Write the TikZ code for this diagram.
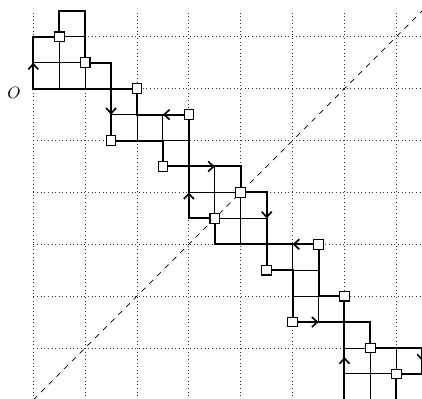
\documentclass[tikz,border=0pt]{standalone}
\usepackage{amsmath}
\usepackage{tikz}
\usetikzlibrary{arrows.meta}

\begin{document}
\begin{tikzpicture}[x=0.5cm,y=0.5cm,font=\small,
  pathline/.style={line width=1.1pt,line join=miter},
  cellline/.style={line width=0.5pt},
  turnbox/.style={draw,fill=white,line width=0.6pt,minimum size=5.3pt,inner sep=0pt},
  dirtip/.style={-{Straight Barb[length=3pt,width=5.5pt]},line width=0.9pt}]
\useasboundingbox (-1.284,-11.93) rectangle (14.99,3.42);
\draw[line width=0.5pt,black!80,dash pattern=on 0.5pt off 1.5pt] (0,-12) grid (15,3);
\draw[dashed,line width=0.4pt] (0,-12) -- (15,3);
% inner cell lines
\draw[cellline] (1,2)--(2,2) (1,2)--(1,0) (2,1)--(2,0) (0,1)--(2,1)
  (3,-1)--(4,-1) (4,-1)--(4,-2) (5,-1)--(5,-2) (5,-2)--(6,-2)
  (7,-3)--(7,-5) (7,-5)--(9,-5) (6,-4)--(8,-4) (8,-4)--(8,-6)
  (14,-11)--(14,-10) (14,-11)--(12,-11) (13,-10)--(12,-10) (13,-12)--(13,-10)
  (11,-9)--(11,-8) (11,-8)--(10,-8) (10,-7)--(10,-6) (10,-7)--(11,-7);
% the closed path through O
\draw[pathline] (0,0)--(0,2)--(1,2)--(1,3)--(2,3)--(2,1)--(3,1)--(3,-2)--(5,-2)
  --(5,-3)--(8,-3)--(8,-4)--(9,-4)--(9,-7)--(10,-7)--(10,-9)--(13,-9)--(13,-10)
  --(15,-10)--(15,-11)--(14,-11)--(14,-12)--(12,-12)--(12,-8)--(11,-8)--(11,-6)
  --(7,-6)--(7,-5)--(6,-5)--(6,-1)--(4,-1)--(4,0)--cycle;
% directions
\draw[dirtip] (0,0.6)--(0,1);
\draw[dirtip] (3,-0.6)--(3,-1);
\draw[dirtip] (5.4,-1)--(5,-1);
\draw[dirtip] (6.6,-3)--(7,-3);
\draw[dirtip] (6,-4.4)--(6,-4);
\draw[dirtip] (9,-4.6)--(9,-5);
\draw[dirtip] (10.4,-6)--(10,-6);
\draw[dirtip] (10.6,-9)--(11,-9);
\draw[dirtip] (12,-10.75)--(12,-10.35);
\draw[dirtip] (15,-10.1)--(15,-10.5);
% turning boxes
\foreach \p [count=\i] in {(1,2),(2,1),(4,0),(3,-2),(6,-1),(5,-3),(8,-4),(7,-5),
  (11,-6),(9,-7),(12,-8),(10,-9),(13,-10),(14,-11)}
  \node[turnbox] (t\i) at \p {};
\node (o) at (-0.74,-0.17) {$O$};
\end{tikzpicture}
\end{document}
